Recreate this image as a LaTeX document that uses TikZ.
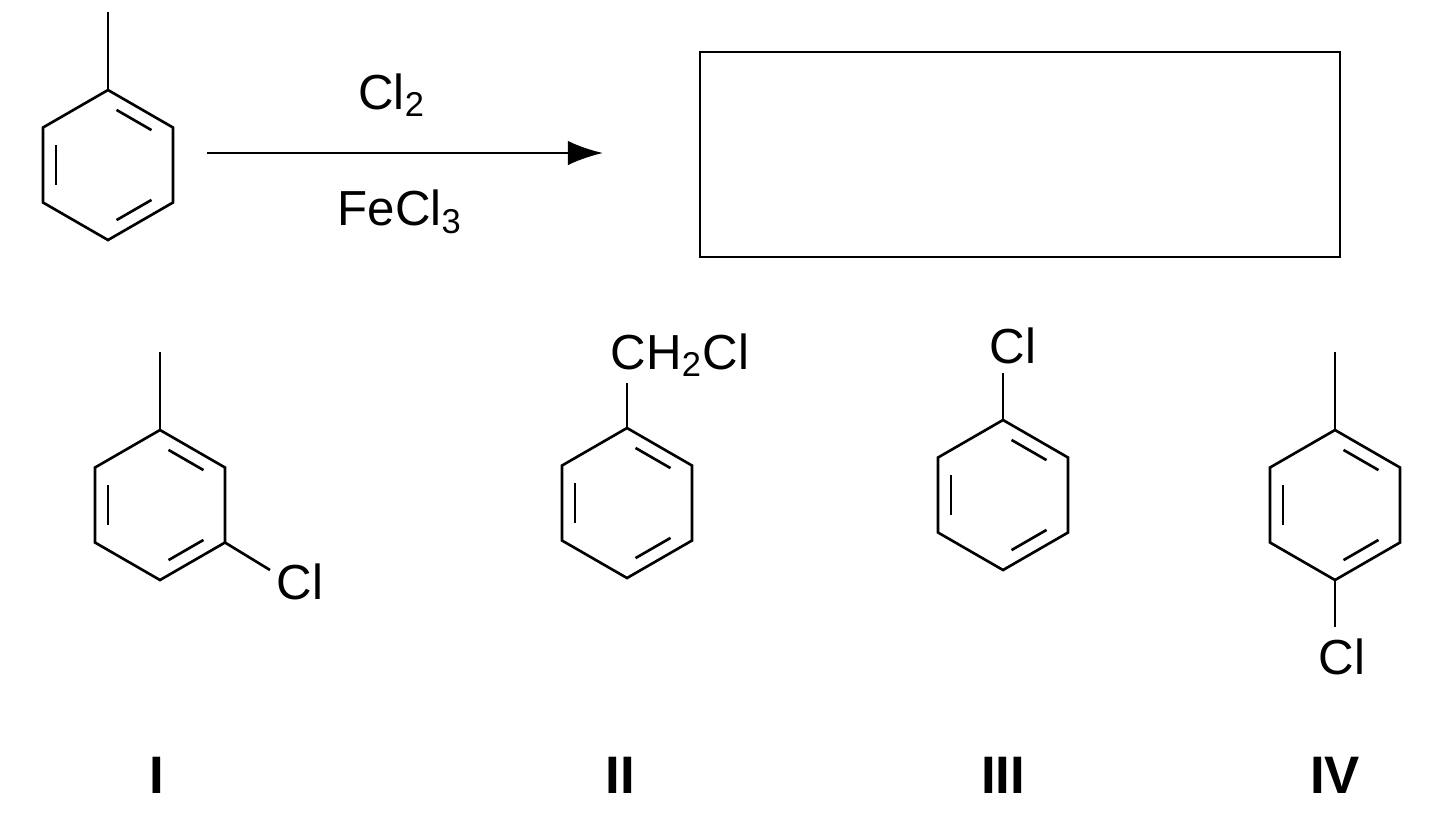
\documentclass[tikz,border=0pt]{standalone}
\usepackage{fontspec}
\setmainfont{Liberation Sans}
\usetikzlibrary{calc,arrows.meta}
\newcommand{\benz}[3]{% name, x, y
  \coordinate (#1c) at (#2,#3);
  \coordinate (#1t) at ($(#1c)+(0,-75)$);
  \coordinate (#1ur) at ($(#1c)+(65,-37.5)$);
  \coordinate (#1lr) at ($(#1c)+(65,37.5)$);
  \coordinate (#1b) at ($(#1c)+(0,75)$);
  \coordinate (#1ll) at ($(#1c)+(-65,37.5)$);
  \coordinate (#1ul) at ($(#1c)+(-65,-37.5)$);
  \draw[bond] (#1t)--(#1ur)--(#1lr)--(#1b)--(#1ll)--(#1ul)--cycle;
  \draw[bond,shorten <=2.8pt,shorten >=2.8pt] ($(#1c)!0.8!(#1t)$)--($(#1c)!0.8!(#1ur)$);
  \draw[bond,shorten <=2.8pt,shorten >=2.8pt] ($(#1c)!0.8!(#1ul)$)--($(#1c)!0.8!(#1ll)$);
  \draw[bond,shorten <=2.8pt,shorten >=2.8pt] ($(#1c)!0.8!(#1lr)$)--($(#1c)!0.8!(#1b)$);
}
\tikzset{bond/.style={line width=0.75pt,line join=miter},
  lab/.style={font=\fontsize{14}{16}\selectfont,inner sep=0pt},
  rom/.style={font=\fontsize{15}{17}\selectfont\bfseries,inner sep=0pt}}
\begin{document}
\begin{tikzpicture}[x=0.01cm,y=-0.01cm]
\useasboundingbox (0,0) rectangle (1440,820);
\benz{A}{108}{165}
\coordinate (Am) at (108,12); \draw[bond] (At)--(Am);
\coordinate (arrS) at (207,153); \coordinate (arrE) at (603,153);
\draw[bond,-{Latex[length=10pt,width=7pt]}] (arrS)--(arrE);
\node[lab] (cl2) at (392,95) {Cl\textsubscript{2}};
\node[lab] (fe) at (400,212) {FeCl\textsubscript{3}};
\draw[line width=0.75pt] (700,52) rectangle (1340,257);
% I
\benz{B}{160}{505}
\coordinate (Bm) at (160,352); \draw[bond] (Bt)--(Bm);
\node[lab] (Bcl) at (300,582) {Cl};
\coordinate (Bce) at (270,570); \draw[bond] (Blr)--(Bce);
% II
\benz{C}{627}{503}
\node[lab,anchor=west] (Cch) at (610,355) {CH\textsubscript{2}Cl};
\coordinate (Cce) at (627,383); \draw[bond] (Ct)--(Cce);
% III
\benz{D}{1003}{495}
\node[lab] (Dcl) at (1013,346) {Cl};
\coordinate (Dce) at (1003,373); \draw[bond] (Dt)--(Dce);
% IV
\benz{E}{1335}{505}
\coordinate (Em) at (1335,352); \draw[bond] (Et)--(Em);
\node[lab] (Ecl) at (1342,657) {Cl};
\coordinate (Ece) at (1335,627); \draw[bond] (Eb)--(Ece);
\node[rom] (r1) at (157,775) {I};
\node[rom] (r2) at (620,775) {II};
\node[rom] (r3) at (1003,775) {III};
\node[rom] (r4) at (1335,775) {IV};
\end{tikzpicture}
\end{document}
